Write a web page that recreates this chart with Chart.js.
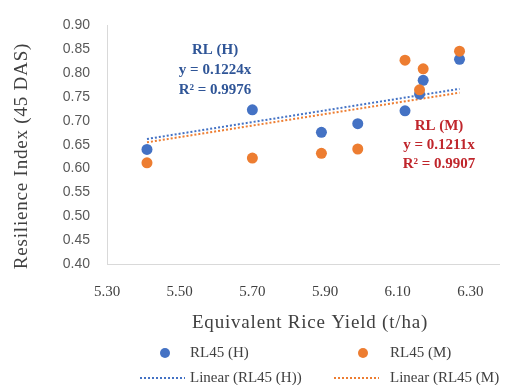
<!DOCTYPE html>
<html>
<head>
<meta charset="utf-8">
<script src="https://cdn.jsdelivr.net/npm/chart.js@4.4.1/dist/chart.umd.min.js"></script>
<style>
html,body{margin:0;padding:0;background:#fff;}
#wrap{width:505px;height:385px;position:relative;}
</style>
</head>
<body>
<div id="wrap"><canvas id="c" width="505" height="385"></canvas></div>
<script>
// ---- data ----
const yieldX = [5.41, 5.70, 5.89, 5.99, 6.12, 6.16, 6.17, 6.27];
const rl45H  = [0.640, 0.723, 0.676, 0.694, 0.721, 0.756, 0.785, 0.829];
const rl45M  = [0.612, 0.622, 0.632, 0.641, 0.827, 0.765, 0.809, 0.846];
const trendX = [5.41, 6.27];
const trendH = [0.662, 0.767];
const trendM = [0.655, 0.759];
const xTicks = [5.30, 5.50, 5.70, 5.90, 6.10, 6.30];
const yTicks = [0.40, 0.45, 0.50, 0.55, 0.60, 0.65, 0.70, 0.75, 0.80, 0.85, 0.90];
const seriesNames = ["RL45 (H)", "RL45 (M)", "Linear (RL45 (H))", "Linear (RL45 (M)"];
const annotH = ["RL (H)", "y = 0.1224x", "R\u00B2 = 0.9976"];
const annotM = ["RL (M)", "y = 0.1211x", "R\u00B2 = 0.9907"];
const xTitle = "Equivalent Rice Yield (t/ha)";
const yTitle = "Resilience Index (45 DAS)";

const BLUE = "#4472C4", ORANGE = "#ED7D31";
const pts = (xs, ys) => xs.map((x, i) => ({x: x, y: ys[i]}));

const overlay = {
  id: "overlay",
  afterDraw(chart) {
    const ctx = chart.ctx;
    ctx.save();
    // axis titles
    ctx.fillStyle = "#404040";
    ctx.font = "19px 'Liberation Serif'";
    ctx.letterSpacing = "0.8px";
    ctx.textAlign = "center";
    ctx.textBaseline = "middle";
    ctx.fillText(xTitle, 310, 323);
    ctx.save();
    ctx.translate(22, 156);
    ctx.rotate(-Math.PI / 2);
    ctx.fillText(yTitle, 0, 0);
    ctx.restore();
    ctx.letterSpacing = "0px";
    // annotations
    ctx.font = "bold 15px 'Liberation Serif'";
    ctx.fillStyle = "#2F5597";
    annotH.forEach((t, i) => ctx.fillText(t, 215, 50 + i * 20));
    ctx.fillStyle = "#C0262C";
    annotM.forEach((t, i) => ctx.fillText(t, 439, 126 + i * 19));
    // legend
    const ds = chart.data.datasets;
    ctx.font = "15px 'Liberation Serif'";
    ctx.textAlign = "left";
    const items = [
      {ds: ds[0], mark: "pt", mx: 165, tx: 190, y: 353},
      {ds: ds[1], mark: "pt", mx: 363, tx: 390, y: 353},
      {ds: ds[2], mark: "ln", mx: 140, tx: 190, y: 378},
      {ds: ds[3], mark: "ln", mx: 334, tx: 390, y: 378}
    ];
    items.forEach(it => {
      if (it.mark === "pt") {
        ctx.beginPath();
        ctx.arc(it.mx, it.y, 5, 0, Math.PI * 2);
        ctx.fillStyle = it.ds.backgroundColor;
        ctx.fill();
      } else {
        ctx.save();
        ctx.strokeStyle = it.ds.borderColor;
        ctx.lineWidth = 2;
        ctx.setLineDash([2, 2]);
        ctx.beginPath();
        ctx.moveTo(it.mx, it.y);
        ctx.lineTo(it.mx + 45, it.y);
        ctx.stroke();
        ctx.restore();
      }
      ctx.fillStyle = "#404040";
      ctx.fillText(it.ds.label, it.tx, it.y);
    });
    ctx.restore();
  }
};

new Chart(document.getElementById("c"), {
  type: "scatter",
  data: {
    datasets: [
      {label: seriesNames[0], data: pts(yieldX, rl45H), backgroundColor: BLUE, borderColor: BLUE,
       pointRadius: 5.5, pointHoverRadius: 5.5, borderWidth: 0, order: 2},
      {label: seriesNames[1], data: pts(yieldX, rl45M), backgroundColor: ORANGE, borderColor: ORANGE,
       pointRadius: 5.5, pointHoverRadius: 5.5, borderWidth: 0, order: 1},
      {label: seriesNames[2], type: "line", data: pts(trendX, trendH), borderColor: BLUE, backgroundColor: BLUE,
       borderWidth: 2, borderDash: [2, 2], pointRadius: 0, fill: false, order: 4},
      {label: seriesNames[3], type: "line", data: pts(trendX, trendM), borderColor: ORANGE, backgroundColor: ORANGE,
       borderWidth: 2, borderDash: [2, 2], pointRadius: 0, fill: false, order: 3}
    ]
  },
  options: {
    responsive: false,
    animation: false,
    events: [],
    layout: {padding: {top: 22, right: 0, bottom: 0, left: 0}},
    plugins: {legend: {display: false}, tooltip: {enabled: false}, title: {display: false}},
    scales: {
      x: {
        type: "linear", min: 5.30, max: 6.38,
        afterBuildTicks: s => { s.ticks = xTicks.map(v => ({value: v})); },
        afterFit: s => { s.height = 121; },
        grid: {display: false, drawTicks: false},
        border: {display: true, color: "#D9D9D9", width: 1},
        ticks: {padding: 19, color: "#404040", font: {family: "'Liberation Serif'", size: 15},
                callback: v => v.toFixed(2), maxRotation: 0, autoSkip: false}
      },
      y: {
        type: "linear", min: 0.40, max: 0.90,
        afterBuildTicks: s => { s.ticks = yTicks.map(v => ({value: v})); },
        afterFit: s => { s.width = 107; },
        grid: {display: false, drawTicks: false},
        border: {display: true, color: "#D9D9D9", width: 1},
        ticks: {padding: 17, color: "#595959", font: {family: "'Liberation Sans'", size: 14},
                callback: v => v.toFixed(2), autoSkip: false}
      }
    }
  },
  plugins: [overlay]
});
</script>
</body>
</html>
